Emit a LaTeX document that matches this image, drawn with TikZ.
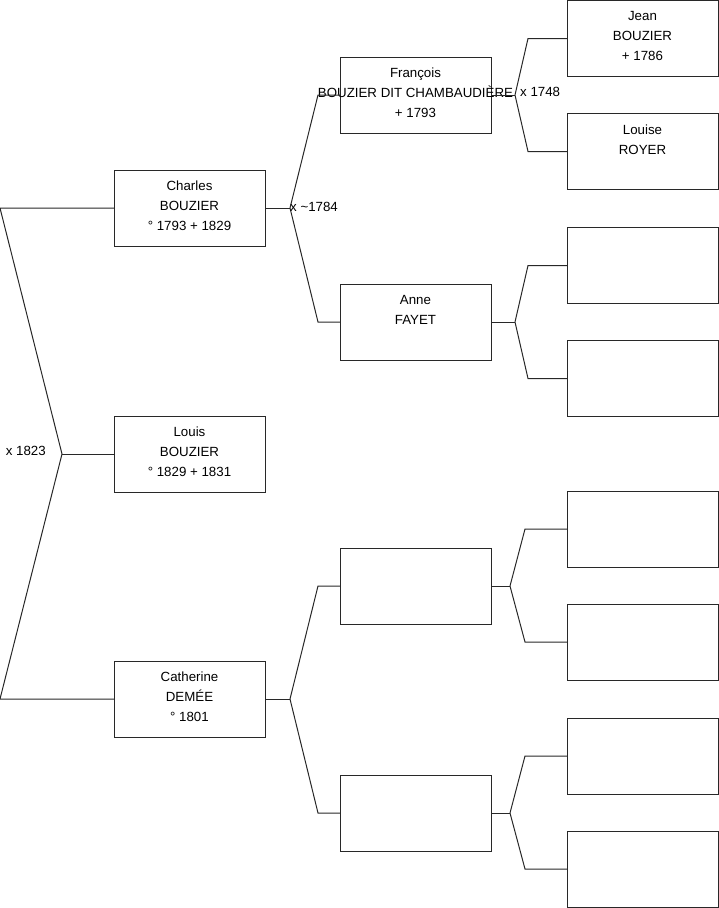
\documentclass[tikz,border=0pt]{standalone}
\usepackage{fontspec}
\setmainfont{Liberation Sans}
\usetikzlibrary{positioning}
\definecolor{linecol}{RGB}{40,40,40}

\begin{document}
\begin{tikzpicture}[x=1pt, y=1pt,
    box/.style={draw=linecol, line width=1pt, minimum width=151pt,
                minimum height=76pt, inner sep=0pt, outer sep=0pt},
    txt/.style={align=center, inner sep=0pt, font=\fontsize{13.3}{19.7}\selectfont},
    mar/.style={inner sep=0pt, font=\fontsize{13.3}{16}\selectfont},
    ln/.style={draw=linecol, line width=1pt}
  ]
  \useasboundingbox (0,0) rectangle (719,-908);

  % generation 1
  \node[box] (charles) at (189.5,-208) {};
  \node[box, below=170pt of charles] (louis) {};
  \node[box, below=169pt of louis] (catherine) {};

  % generation 2
  \node[box] (francois) at (415.5,-95) {};
  \node[box, below=151pt of francois] (anne) {};
  \node[box] (gtwoc) at (415.5,-586) {};
  \node[box, below=151pt of gtwoc] (gtwod) {};

  % generation 3
  \node[box] (jean) at (642.5,-38.5) {};
  \node[box, below=37pt of jean] (louise) {};
  \node[box, below=38pt of louise] (gthreec) {};
  \node[box, below=37pt of gthreec] (gthreed) {};
  \node[box] (gthreee) at (642.5,-529) {};
  \node[box, below=37pt of gthreee] (gthreef) {};
  \node[box, below=38pt of gthreef] (gthreeg) {};
  \node[box, below=37pt of gthreeg] (gthreeh) {};

  % names
  \node[txt, below=11pt of charles.north] (charles-t) {Charles\\BOUZIER\\° 1793 + 1829};
  \node[txt, below=11pt of louis.north] (louis-t) {Louis\\BOUZIER\\° 1829 + 1831};
  \node[txt, below=11pt of catherine.north] (catherine-t) {Catherine\\DEMÉE\\° 1801};
  \node[txt, below=11pt of francois.north] (francois-t) {François\\BOUZIER DIT CHAMBAUDIÈRE\\+ 1793};
  \node[txt, below=11pt of anne.north] (anne-t) {Anne\\FAYET};
  \node[txt, below=11pt of jean.north] (jean-t) {Jean\\BOUZIER\\+ 1786};
  \node[txt, below=11pt of louise.north] (louise-t) {Louise\\ROYER};

  % forks
  \coordinate (fk0) at ([xshift=-52pt]louis.west);
  \coordinate (rta) at ([xshift=-114pt]charles.west);
  \coordinate (rtb) at ([xshift=-114pt]catherine.west);
  \draw[ln] (charles.west) -- (rta) -- (fk0) -- (rtb) -- (catherine.west);
  \draw[ln] (louis.west) -- (fk0);

  \coordinate (fk1) at ([xshift=25pt]charles.east);
  \draw[ln] (charles.east) -- (fk1);
  \draw[ln] (fk1) -- ([xshift=-22pt]francois.west) -- (francois.west);
  \draw[ln] (fk1) -- ([xshift=-22pt]anne.west) -- (anne.west);

  \coordinate (fk2) at ([xshift=25pt]catherine.east);
  \draw[ln] (catherine.east) -- (fk2);
  \draw[ln] (fk2) -- ([xshift=-22pt]gtwoc.west) -- (gtwoc.west);
  \draw[ln] (fk2) -- ([xshift=-22pt]gtwod.west) -- (gtwod.west);

  \coordinate (fk3) at ([xshift=24pt]francois.east);
  \draw[ln] (francois.east) -- (fk3);
  \draw[ln] (fk3) -- ([xshift=-39pt]jean.west) -- (jean.west);
  \draw[ln] (fk3) -- ([xshift=-39pt]louise.west) -- (louise.west);

  \coordinate (fk4) at ([xshift=24pt]anne.east);
  \draw[ln] (anne.east) -- (fk4);
  \draw[ln] (fk4) -- ([xshift=-39pt]gthreec.west) -- (gthreec.west);
  \draw[ln] (fk4) -- ([xshift=-39pt]gthreed.west) -- (gthreed.west);

  \coordinate (fk5) at ([xshift=19pt]gtwoc.east);
  \draw[ln] (gtwoc.east) -- (fk5);
  \draw[ln] (fk5) -- ([xshift=-42pt]gthreee.west) -- (gthreee.west);
  \draw[ln] (fk5) -- ([xshift=-42pt]gthreef.west) -- (gthreef.west);

  \coordinate (fk6) at ([xshift=19pt]gtwod.east);
  \draw[ln] (gtwod.east) -- (fk6);
  \draw[ln] (fk6) -- ([xshift=-42pt]gthreeg.west) -- (gthreeg.west);
  \draw[ln] (fk6) -- ([xshift=-42pt]gthreeh.west) -- (gthreeh.west);

  % marriages
  \node[mar, anchor=east] (m0) at ([xshift=-16pt,yshift=3pt]fk0) {x 1823};
  \node[mar, anchor=west] (m1) at ([yshift=1pt]fk1) {x \textasciitilde1784};
  \node[mar, anchor=west] (m3) at ([xshift=5pt,yshift=3pt]fk3) {x 1748};
\end{tikzpicture}
\end{document}
